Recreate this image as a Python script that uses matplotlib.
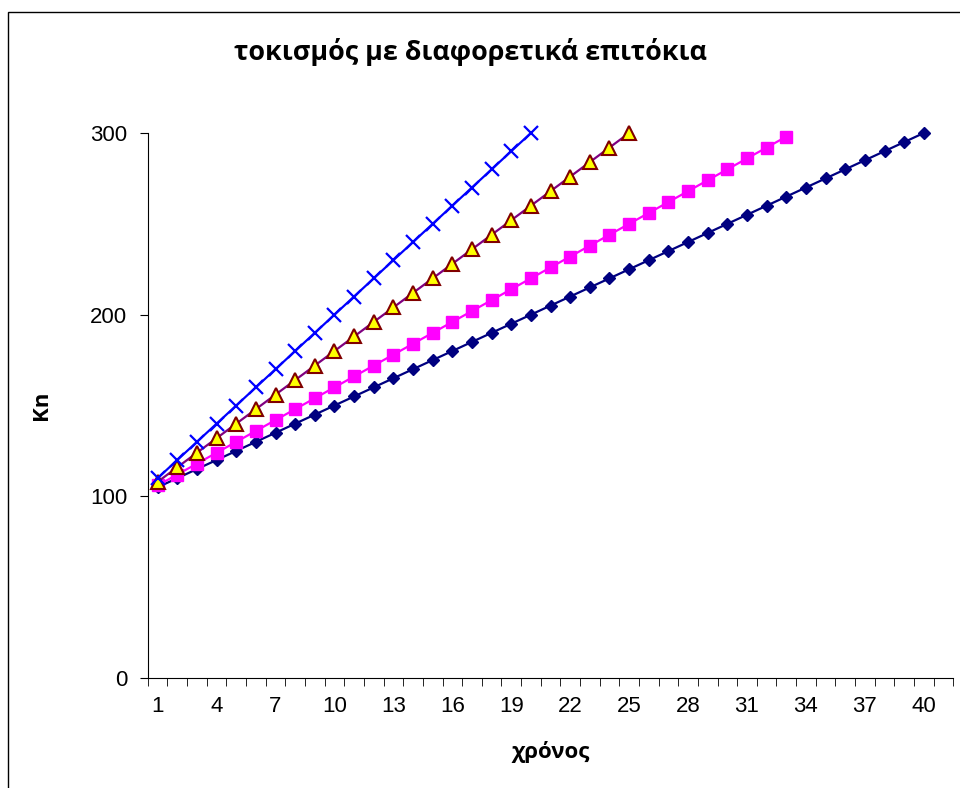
import matplotlib
matplotlib.use('Agg')
import matplotlib.pyplot as plt
from matplotlib.patches import Rectangle

plt.rcParams['font.family'] = ['Liberation Sans', 'DejaVu Sans']

# simple interest on 100
years = list(range(1, 42))
k_5 = [105, 110, 115, 120, 125, 130, 135, 140, 145, 150,
       155, 160, 165, 170, 175, 180, 185, 190, 195, 200,
       205, 210, 215, 220, 225, 230, 235, 240, 245, 250,
       255, 260, 265, 270, 275, 280, 285, 290, 295, 300]
k_6 = [106, 112, 118, 124, 130, 136, 142, 148, 154, 160,
       166, 172, 178, 184, 190, 196, 202, 208, 214, 220,
       226, 232, 238, 244, 250, 256, 262, 268, 274, 280,
       286, 292, 298]
k_8 = [108, 116, 124, 132, 140, 148, 156, 164, 172, 180,
       188, 196, 204, 212, 220, 228, 236, 244, 252, 260,
       268, 276, 284, 292, 300]
k_10 = [110, 120, 130, 140, 150, 160, 170, 180, 190, 200,
        210, 220, 230, 240, 250, 260, 270, 280, 290, 300]
y_ticks = [0, 100, 200, 300]

fig = plt.figure(figsize=(9.6, 7.88), dpi=100)
ax = fig.add_axes([0.154, 0.1396, 0.839, 0.6916])

ax.plot(years[:len(k_5)], k_5, color='#000080', marker='D', markersize=6.5,
        lw=1.6, clip_on=False)
ax.plot(years[:len(k_6)], k_6, color='#FF00FF', marker='s', markersize=8,
        lw=1.6, clip_on=False)
ax.plot(years[:len(k_8)], k_8, color='#800080', marker='^', markersize=10,
        markerfacecolor='#FFFF00', markeredgecolor='#800000', mew=1.5,
        lw=1.6, clip_on=False)
ax.plot(years[:len(k_10)], k_10, color='#0000FF', marker='x', markersize=10,
        mew=1.6, lw=1.6, clip_on=False)

ax.set_xlim(0.5, 41.5)
ax.set_ylim(0, 300)
ax.set_yticks(y_ticks)
ax.set_xticks(years[::3])
ax.set_xticks([y - 0.5 for y in years] + [41.5], minor=True)
ax.tick_params(axis='x', which='major', length=0, pad=13, labelsize=16)
ax.tick_params(axis='x', which='minor', length=6, direction='out')
ax.tick_params(axis='y', length=6, direction='out', labelsize=16, pad=9)

for side in ['top', 'right']:
    ax.spines[side].set_visible(False)

lab_font = dict(family=['Open Sans', 'DejaVu Sans'], fontweight='bold', fontsize=16)
ax.set_xlabel('χρόνος', labelpad=17, **lab_font)
ax.set_ylabel('Kn', labelpad=27, **lab_font)
fig.text(0.49, 0.934, 'τοκισμός με διαφορετικά επιτόκια', ha='center',
         va='center', family=['Open Sans', 'DejaVu Sans'], fontsize=19.4,
         fontweight='bold')

fig.patches.append(Rectangle((0.008, -0.1), 1.2, 1.085, transform=fig.transFigure,
                             fill=False, edgecolor='black', lw=1))

fig.savefig('out.png', dpi=100)
